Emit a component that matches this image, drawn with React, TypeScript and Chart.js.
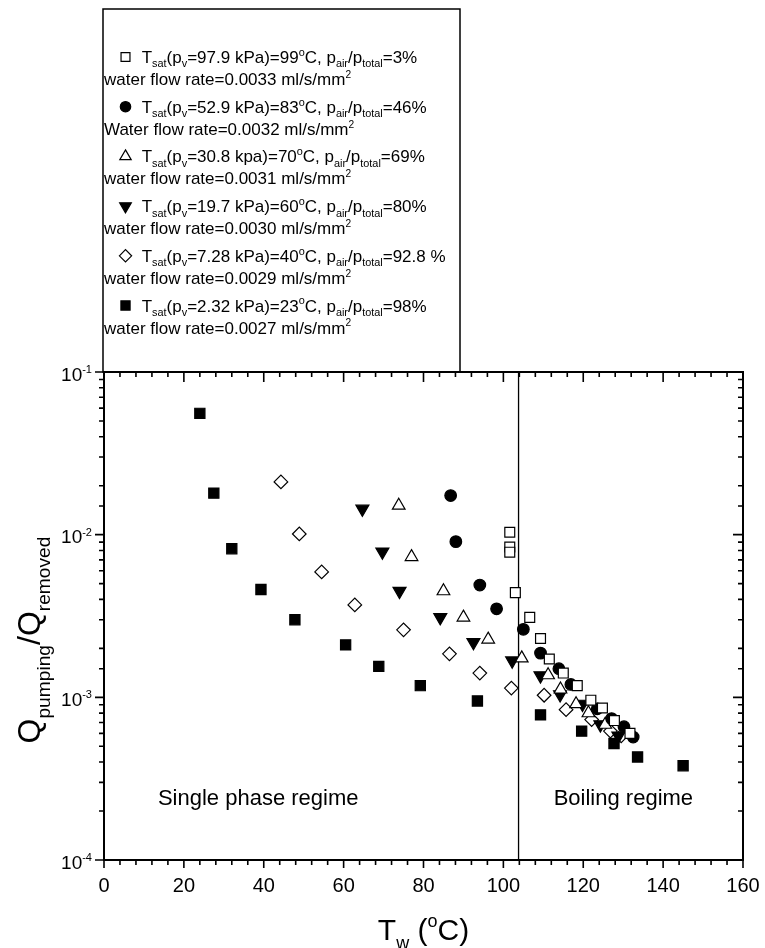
import React, { useEffect, useRef } from "react";
import { Chart, registerables } from "chart.js";
import { drawPoint } from "chart.js/helpers";

Chart.register(...registerables);

const FONT = "'Liberation Sans', Arial, Helvetica, sans-serif";

// ---- data (T_w in °C, Q_pumping/Q_removed) ----
const tSq99 = [101.6, 101.6, 101.6, 103.0, 106.6, 109.3, 111.5, 115.0, 118.5, 121.9, 124.8, 127.8, 131.7];
const qSq99 = [0.01035, 0.0084, 0.0078, 0.0044, 0.0031, 0.0023, 0.00172, 0.00141, 0.00118, 0.00096, 0.00086, 0.00072, 0.0006];

const tCir83 = [86.8, 88.1, 94.1, 98.3, 105.0, 109.3, 113.9, 116.9, 123.5, 127.1, 130.2, 132.5];
const qCir83 = [0.0174, 0.00906, 0.0049, 0.0035, 0.00262, 0.00187, 0.0015, 0.0012, 0.00085, 0.00074, 0.00066, 0.00057];

const tTri70 = [73.8, 77.0, 85.0, 90.0, 96.2, 104.6, 111.2, 114.3, 118.2, 121.3, 125.5];
const qTri70 = [0.0151, 0.0073, 0.0045, 0.0031, 0.00227, 0.00174, 0.00137, 0.00112, 0.00091, 0.0008, 0.00068];

const tInv60 = [64.7, 69.7, 74.0, 84.2, 92.5, 102.2, 109.3, 114.2, 119.8, 124.3, 128.8];
const qInv60 = [0.0144, 0.00785, 0.0045, 0.0031, 0.00218, 0.00168, 0.00136, 0.00104, 0.00091, 0.00068, 0.00058];

const tDia40 = [44.3, 48.9, 54.5, 62.8, 75.0, 86.5, 94.1, 102.0, 110.2, 115.7, 122.1, 126.8, 129.5];
const qDia40 = [0.0211, 0.0101, 0.0059, 0.0037, 0.0026, 0.00185, 0.00141, 0.00114, 0.00103, 0.00084, 0.00073, 0.00062, 0.00058];

const tFsq23 = [24.0, 27.5, 32.0, 39.3, 47.8, 60.5, 68.8, 79.2, 93.5, 109.3, 119.6, 127.7, 133.6, 145.0];
const qFsq23 = [0.0557, 0.018, 0.0082, 0.0046, 0.003, 0.0021, 0.00155, 0.00118, 0.00095, 0.00078, 0.00062, 0.00052, 0.00043, 0.00038];

const legendLine1 = [
  "T_{sat}(p_{v}=97.9 kPa)=99^{o}C, p_{air}/p_{total}=3%",
  "T_{sat}(p_{v}=52.9 kPa)=83^{o}C, p_{air}/p_{total}=46%",
  "T_{sat}(p_{v}=30.8 kpa)=70^{o}C, p_{air}/p_{total}=69%",
  "T_{sat}(p_{v}=19.7 kPa)=60^{o}C, p_{air}/p_{total}=80%",
  "T_{sat}(p_{v}=7.28 kPa)=40^{o}C, p_{air}/p_{total}=92.8 %",
  "T_{sat}(p_{v}=2.32 kPa)=23^{o}C, p_{air}/p_{total}=98%",
];
const legendLine2 = [
  "water flow rate=0.0033 ml/s/mm^{2}",
  "Water flow rate=0.0032 ml/s/mm^{2}",
  "water flow rate=0.0031 ml/s/mm^{2}",
  "water flow rate=0.0030 ml/s/mm^{2}",
  "water flow rate=0.0029 ml/s/mm^{2}",
  "water flow rate=0.0027 ml/s/mm^{2}",
];

const xTickLabels = [0, 20, 40, 60, 80, 100, 120, 140, 160];
const boundaryT = 103.8;
const xTitle = "T_{w} (^{o}C)";
const yTitle = "Q_{pumping}/Q_{removed}";

type Style = { pointStyle: string; radius: number; rotation: number; fill: string };
const styles: Style[] = [
  { pointStyle: "rect", radius: 7.0, rotation: 0, fill: "#fff" },
  { pointStyle: "circle", radius: 5.8, rotation: 0, fill: "#000" },
  { pointStyle: "triangle", radius: 7.3, rotation: 0, fill: "#fff" },
  { pointStyle: "triangle", radius: 7.5, rotation: 180, fill: "#000" },
  { pointStyle: "rectRot", radius: 6.8, rotation: 0, fill: "#fff" },
  { pointStyle: "rect", radius: 7.2, rotation: 0, fill: "#000" },
];
const seriesT = [tSq99, tCir83, tTri70, tInv60, tDia40, tFsq23];
const seriesQ = [qSq99, qCir83, qTri70, qInv60, qDia40, qFsq23];

type Seg = { t: string; k: "n" | "sub" | "sup" };
function parseRich(s: string): Seg[] {
  const out: Seg[] = [];
  const re = /([_^])\{([^}]*)\}/g;
  let last = 0;
  let m: RegExpExecArray | null;
  while ((m = re.exec(s))) {
    if (m.index > last) out.push({ t: s.slice(last, m.index), k: "n" });
    out.push({ t: m[2], k: m[1] === "_" ? "sub" : "sup" });
    last = re.lastIndex;
  }
  if (last < s.length) out.push({ t: s.slice(last), k: "n" });
  return out;
}

function drawRich(
  ctx: CanvasRenderingContext2D,
  s: string,
  x: number,
  y: number,
  size: number,
  align: "left" | "center" | "right",
  subScale = 0.58,
  subDy = 0.28,
  supDy = -0.42
) {
  const segs = parseRich(s);
  const fontFor = (k: string) => `${k === "n" ? size : size * subScale}px ${FONT}`;
  let total = 0;
  const widths = segs.map((sg) => {
    ctx.font = fontFor(sg.k);
    const w = ctx.measureText(sg.t).width;
    total += w;
    return w;
  });
  let cx = align === "left" ? x : align === "center" ? x - total / 2 : x - total;
  ctx.textAlign = "left";
  ctx.textBaseline = "alphabetic";
  segs.forEach((sg, i) => {
    ctx.font = fontFor(sg.k);
    const dy = sg.k === "sub" ? size * subDy : sg.k === "sup" ? size * supDy : 0;
    ctx.fillText(sg.t, cx, y + dy);
    cx += widths[i];
  });
}

const decorPlugin = {
  id: "decor",
  beforeDatasetsDraw(chart: any) {
    const { ctx, chartArea } = chart;
    const xs = chart.scales.x;
    const px = xs.getPixelForValue(boundaryT);
    ctx.save();
    ctx.strokeStyle = "#000";
    ctx.lineWidth = 1.3;
    ctx.beginPath();
    ctx.moveTo(px, chartArea.top);
    ctx.lineTo(px, chartArea.bottom);
    ctx.stroke();
    ctx.restore();
  },
  afterDraw(chart: any) {
    const { ctx, chartArea } = chart;
    const xs = chart.scales.x;
    const ys = chart.scales.y;
    const { left, right, top, bottom } = chartArea;
    ctx.save();
    ctx.strokeStyle = "#000";
    ctx.fillStyle = "#000";

    // ticks
    ctx.lineWidth = 1.6;
    ctx.beginPath();
    for (let v = 0; v <= 160; v += 4) {
      const p = xs.getPixelForValue(v);
      const major = v % 20 === 0;
      ctx.moveTo(p, bottom);
      ctx.lineTo(p, bottom + (major ? 8 : 5));
      ctx.moveTo(p, top);
      ctx.lineTo(p, top + (major ? 10 : 5));
    }
    ys.ticks.forEach((t: any) => {
      const p = ys.getPixelForValue(t.value);
      const lg = Math.log10(t.value);
      const major = Math.abs(lg - Math.round(lg)) < 1e-6;
      ctx.moveTo(left, p);
      ctx.lineTo(left - (major ? 9 : 5), p);
      ctx.moveTo(right, p);
      ctx.lineTo(right - (major ? 10 : 5), p);
    });
    ctx.stroke();

    // frame
    ctx.lineWidth = 2;
    ctx.strokeRect(left, top, right - left, bottom - top);

    // x tick labels
    ctx.font = `20px ${FONT}`;
    ctx.textAlign = "center";
    ctx.textBaseline = "alphabetic";
    xTickLabels.forEach((v) => {
      ctx.fillText(String(v), xs.getPixelForValue(v), bottom + 32);
    });

    // y tick labels (10^n)
    ys.ticks.forEach((t: any) => {
      const lg = Math.log10(t.value);
      if (Math.abs(lg - Math.round(lg)) > 1e-6) return;
      const p = ys.getPixelForValue(t.value);
      drawRich(ctx, `10^{${Math.round(lg)}}`, left - 12, p + 8.5, 19, "right", 0.58, 0.28, -0.4);
    });

    // axis titles
    drawRich(ctx, xTitle, (left + right) / 2, 940, 30, "center", 0.6, 0.3, -0.42);
    ctx.save();
    ctx.translate(40, 640);
    ctx.rotate(-Math.PI / 2);
    drawRich(ctx, yTitle, 0, 0, 32, "center", 0.6, 0.3, -0.42);
    ctx.restore();

    // region labels
    const yReg = ys.getPixelForValue(2.18e-4);
    drawRich(ctx, "Single phase regime", xs.getPixelForValue(13.5), yReg, 22, "left");
    drawRich(ctx, "Boiling regime", xs.getPixelForValue(147.5), yReg, 22, "right");

    // legend box
    ctx.lineWidth = 1.5;
    ctx.strokeRect(103, 9, 357, top - 9);
    legendLine1.forEach((txt, i) => {
      const base = 63 + i * 49.7;
      const st = styles[i];
      ctx.fillStyle = st.fill;
      ctx.strokeStyle = "#000";
      ctx.lineWidth = 1.2;
      drawPoint(ctx, { pointStyle: st.pointStyle as any, radius: st.radius * 0.9, rotation: st.rotation, borderWidth: 1.2 } as any, 125.5, base - 6);
      ctx.fillStyle = "#000";
      drawRich(ctx, txt, 141.7, base, 17, "left", 0.64, 0.26, -0.42);
      drawRich(ctx, legendLine2[i], 104, base + 22, 17, "left", 0.6, 0.26, -0.42);
    });
    ctx.restore();
  },
};

export default function App() {
  const ref = useRef<HTMLCanvasElement | null>(null);
  useEffect(() => {
    if (!ref.current) return;
    const datasets = seriesT.map((ts, i) => ({
      label: `s${i}`,
      data: ts.map((t, j) => ({ x: t, y: seriesQ[i][j] })),
      pointStyle: styles[i].pointStyle as any,
      pointRadius: styles[i].radius,
      pointRotation: styles[i].rotation,
      pointBackgroundColor: styles[i].fill,
      pointBorderColor: "#000",
      pointBorderWidth: 1.2,
      showLine: false,
    }));
    const chart = new Chart(ref.current, {
      type: "scatter",
      data: { datasets },
      options: {
        animation: false,
        responsive: false,
        devicePixelRatio: 1,
        layout: { padding: { top: 372, right: 22, left: 0, bottom: 0 } },
        plugins: { legend: { display: false }, tooltip: { enabled: false } },
        scales: {
          x: {
            type: "linear",
            min: 0,
            max: 160,
            position: "bottom",
            ticks: { display: false, stepSize: 20 },
            grid: { display: false },
            border: { display: false },
            afterFit: (s: any) => {
              s.height = 88;
            },
          },
          y: {
            type: "logarithmic",
            min: 1e-4,
            max: 1e-1,
            position: "left",
            ticks: { display: false },
            grid: { display: false },
            border: { display: false },
            afterFit: (s: any) => {
              s.width = 104;
            },
          },
        },
      } as any,
      plugins: [decorPlugin],
    });
    return () => chart.destroy();
  }, []);
  return (
    <div style={{ position: "absolute", left: 0, top: 0, width: 765, height: 948, background: "#fff" }}>
      <canvas ref={ref} width={765} height={948} style={{ display: "block" }} />
    </div>
  );
}
